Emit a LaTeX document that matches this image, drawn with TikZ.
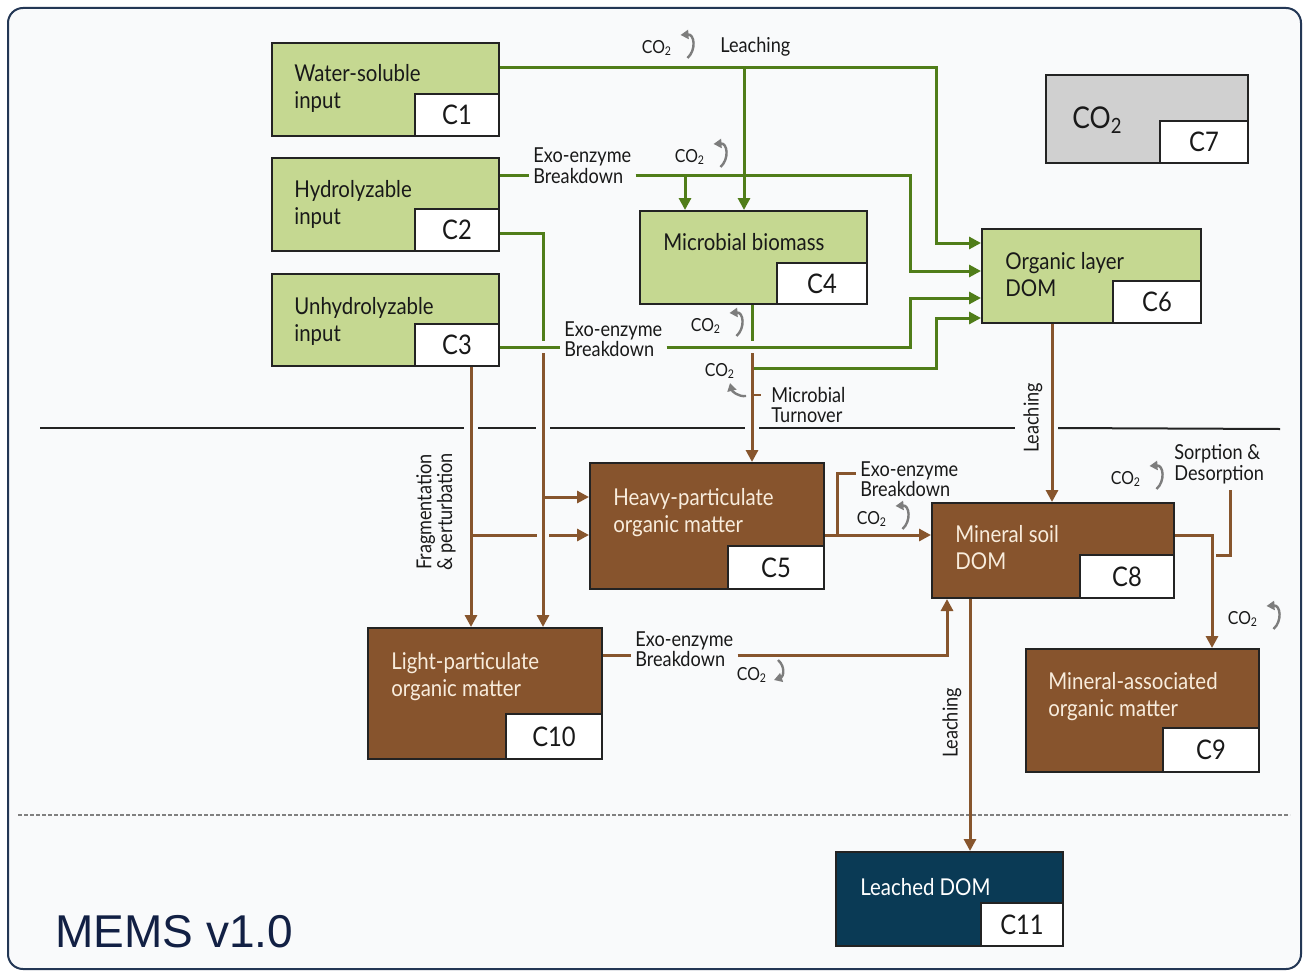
\documentclass[tikz,border=0pt]{standalone}
\usepackage{fontspec}
\setmainfont{Lato}[FakeStretch=0.88]
\newfontfamily\arialf{Liberation Sans}
\usetikzlibrary{arrows.meta,fit,calc}
\definecolor{gfill}{RGB}{197,216,145}
\definecolor{gline}{RGB}{80,125,25}
\definecolor{bfill}{RGB}{135,84,45}
\definecolor{bline}{RGB}{135,85,45}
\definecolor{navy}{RGB}{10,58,85}
\definecolor{grayfill}{RGB}{208,208,208}
\definecolor{boxline}{RGB}{35,35,35}
\definecolor{cream}{RGB}{248,236,220}
\definecolor{framec}{RGB}{35,55,85}
\definecolor{bgc}{RGB}{249,250,251}
\definecolor{titlecol}{RGB}{18,32,68}
\definecolor{curlc}{RGB}{125,125,125}
\definecolor{txtc}{RGB}{25,25,25}
\tikzset{
  boxbase/.style={draw=boxline, line width=1pt, inner sep=0pt},
  gbox/.style={boxbase, fill=gfill},
  bbox/.style={boxbase, fill=bfill},
  nbox/.style={boxbase, fill=navy},
  cbox/.style={boxbase, fill=grayfill},
  idbox/.style={boxbase, fill=white},
  idtxt/.style={font=\fontsize{13.5}{15}\selectfont, text=txtc, inner sep=0pt},
  btxt/.style={font=\fontsize{11.6}{13.3}\selectfont, align=left, anchor=north west, inner sep=0pt, text=txtc},
  wtxt/.style={btxt, text=cream},
  slbl/.style={font=\fontsize{10.3}{10.3}\selectfont, align=left, inner xsep=2pt, inner ysep=0pt, text=txtc},
  co2t/.style={font=\fontsize{9}{9}\selectfont, inner sep=0pt, text=txtc},
  gl/.style={draw=gline, line width=1.5pt},
  ga/.style={gl, -{Triangle[length=6pt,width=6pt]}},
  bl/.style={draw=bline, line width=1.5pt},
  ba/.style={bl, -{Triangle[length=6pt,width=6pt]}},
  sepline/.style={draw=boxline, line width=1pt},
  curl/.style={draw=curlc, line width=1.2pt, -{Triangle[length=4pt,width=4.5pt]}},
  curlup/.pic={\draw[curl] (15,10) .. controls (24,2) and (22,-14) .. (8,-13);},
  curlhook/.pic={\draw[curl] (26,25) .. controls (18,26) and (12,20) .. (10,12);},
  curldown/.pic={\draw[curl] (26,-15) .. controls (34,-8) and (31,2) .. (22,5);}
}
\begin{document}
\begin{tikzpicture}[x=0.5pt,y=-0.5pt]
\useasboundingbox (0,0) rectangle (1309,974);
\fill[white] (0,0) rectangle (1309,974);
\draw[draw=framec, line width=1pt, fill=bgc, rounded corners=7.5pt] (8,8) rectangle (1301,969);

% separators
\draw[sepline] (40,428) -- (464,428);
\draw[sepline] (478,428) -- (536,428);
\draw[sepline] (550,428) -- (745,428);
\draw[sepline] (759,428) -- (1015,428);
\draw[sepline] (1058,428) -- (1280,429);
\draw[draw=gray, line width=0.9pt, dash pattern=on 2pt off 1pt] (18,815) -- (1290,815);

% boxes
\node[gbox, fit={(272,43)(499,136)}] (c1) {};
\node[idbox, fit={(415,94)(499,136)}] (c1id) {};
\node[idtxt] (c1n) at (c1id) {C1};
\node[btxt] (c1t) at (294,64) {Water-soluble\\input};

\node[gbox, fit={(272,158)(499,251)}] (c2) {};
\node[idbox, fit={(415,209)(499,251)}] (c2id) {};
\node[idtxt] (c2n) at (c2id) {C2};
\node[btxt] (c2t) at (294,180) {Hydrolyzable\\input};

\node[gbox, fit={(272,274)(499,366)}] (c3) {};
\node[idbox, fit={(415,324)(499,366)}] (c3id) {};
\node[idtxt] (c3n) at (c3id) {C3};
\node[btxt] (c3t) at (294,297) {Unhydrolyzable\\input};

\node[gbox, fit={(640,211)(867,304)}] (c4) {};
\node[idbox, fit={(777,263)(867,304)}] (c4id) {};
\node[idtxt] (c4n) at (c4id) {C4};
\node[btxt] (c4t) at (663,233) {Microbial biomass};

\node[gbox, fit={(982,229)(1201,323)}] (c6) {};
\node[idbox, fit={(1113,281)(1201,323)}] (c6id) {};
\node[idtxt] (c6n) at (c6id) {C6};
\node[btxt] (c6t) at (1005,252) {Organic layer\\DOM};

\node[cbox, fit={(1046,75)(1248,163)}] (c7) {};
\node[idbox, fit={(1160,121)(1248,163)}] (c7id) {};
\node[idtxt] (c7n) at (c7id) {C7};
\node[anchor=west, inner sep=0pt, font=\fontsize{15}{15}\selectfont, text=txtc] (c7t) at (1072,120) {CO\textsubscript{2}};

\node[bbox, fit={(590,463)(824,589)}] (c5) {};
\node[idbox, fit={(728,546)(824,589)}] (c5id) {};
\node[idtxt] (c5n) at (c5id) {C5};
\node[wtxt] (c5t) at (613,488) {Heavy-particulate\\organic matter};

\node[bbox, fit={(932,503)(1174,598)}] (c8) {};
\node[idbox, fit={(1080,555)(1174,598)}] (c8id) {};
\node[idtxt] (c8n) at (c8id) {C8};
\node[wtxt] (c8t) at (955,525) {Mineral soil\\DOM};

\node[bbox, fit={(368,628)(602,759)}] (c10) {};
\node[idbox, fit={(506,714)(602,759)}] (c10id) {};
\node[idtxt] (c10n) at (c10id) {C10};
\node[wtxt] (c10t) at (391,652) {Light-particulate\\organic matter};

\node[bbox, fit={(1026,649)(1259,772)}] (c9) {};
\node[idbox, fit={(1163,728)(1259,772)}] (c9id) {};
\node[idtxt] (c9n) at (c9id) {C9};
\node[wtxt] (c9t) at (1048,672) {Mineral-associated\\organic matter};

\node[nbox, fit={(836,852)(1063,946)}] (c11) {};
\node[idbox, fit={(981,903)(1063,946)}] (c11id) {};
\node[idtxt] (c11n) at (c11id) {C11};
\node[wtxt, text=white] (c11t) at (860,878) {Leached DOM};

\node[anchor=base west, inner sep=0pt, font=\arialf\fontsize{23}{23}\selectfont, text=titlecol] (title) at (55,947) {MEMS v1.0};

% flow labels
\node[slbl, anchor=west] (lleach) at (716,47) {Leaching};
\node[slbl, anchor=west] (l2) at (529,166) {Exo-enzyme\\Breakdown};
\node[slbl, anchor=west] (l3) at (560,339) {Exo-enzyme\\Breakdown};
\node[slbl, anchor=west] (lturn) at (767,405) {Microbial\\Turnover};
\node[slbl, anchor=west] (l5) at (856,479) {Exo-enzyme\\Breakdown};
\node[slbl, anchor=west] (lsorp) at (1170,464) {Sorption \&\\Desorption};
\node[slbl, anchor=west] (l10) at (631,649) {Exo-enzyme\\Breakdown};
\node[slbl, rotate=90, align=center] (lfrag) at (436,512) {Fragmentation\\\& perturbation};
\node[slbl, rotate=90] (lleach2) at (1033,418) {Leaching};
\node[slbl, rotate=90] (lleach3) at (952,723) {Leaching};

% CO2 labels
\node[co2t] (co2a) at (657,48) {CO\textsubscript{2}};
\node[co2t] (co2b) at (690,157) {CO\textsubscript{2}};
\node[co2t] (co2c) at (706,326) {CO\textsubscript{2}};
\node[co2t] (co2d) at (720,371) {CO\textsubscript{2}};
\node[co2t] (co2e) at (872,519) {CO\textsubscript{2}};
\node[co2t] (co2f) at (1126,479) {CO\textsubscript{2}};
\node[co2t] (co2g) at (1243,619) {CO\textsubscript{2}};
\node[co2t] (co2h) at (752,675) {CO\textsubscript{2}};
\pic at (co2a.east) {curlup};
\pic at (co2b.east) {curlup};
\pic at (co2c.east) {curlup};
\pic at (co2e.east) {curlup};
\pic at (co2f.east) {curlup};
\pic at (co2g.east) {curlup};
\pic at (co2d.center) {curlhook};
\pic at (co2h.center) {curldown};

% green connectors
\draw[ga] (c1.east |- 0,68) -| (936,243) -- (c6.west |- 0,243);
\draw[ga] (744,68) -- (c4.north -| 744,0);
\draw[gl] (c2.east |- 0,175) -- (l2.west |- 0,175);
\draw[ga] (l2.east |- 0,175) -| (910,271) -- (c6.west |- 0,271);
\draw[ga] (685,175) -- (c4.north -| 685,0);
\draw[gl] (c3id.east |- 0,347) -- (l3.west |- 0,347);
\draw[ga] (l3.east |- 0,347) -| (910,298) -- (c6.west |- 0,298);
\draw[gl] (c2id.east |- 0,233) -| (543,341);
\draw[gl] (c4.south -| 752,0) -- (752,341);
\draw[ga] (752,368) -| (936,318) -- (c6.west |- 0,318);

% brown connectors
\draw[ba] (752,353) -- (c5.north -| 752,0);
\draw[bl, line width=1pt] (754,395) -- (761,395);
\draw[ba] (543,353) -- (c10.north -| 543,0);
\draw[ba] (543,497) -- (c5.west |- 0,497);
\draw[ba] (c3id.south -| 471,0) -- (c10.north -| 471,0);
\draw[bl] (471,535) -- (537,535);
\draw[ba] (549,535) -- (c5.west |- 0,535);
\draw[ba] (c5.east |- 0,535) -- (c8.west |- 0,535);
\draw[bl] (837,535) |- (l5.west |- 0,473);
\draw[ba] (c8.east |- 0,535) -| (c9.north -| 1212,0);
\draw[bl] (1216,555) -| (1230,490);
\draw[ba] (c6.south -| 1052,0) -- (c8.north -| 1052,0);
\draw[ba] (c8.south -| 970,0) -- (c11.north -| 970,0);
\draw[bl] (c10.east |- 0,655) -- (l10.west |- 0,655);
\draw[ba] (l10.east |- 0,655) -| (c8.south -| 947,0);
\end{tikzpicture}
\end{document}
